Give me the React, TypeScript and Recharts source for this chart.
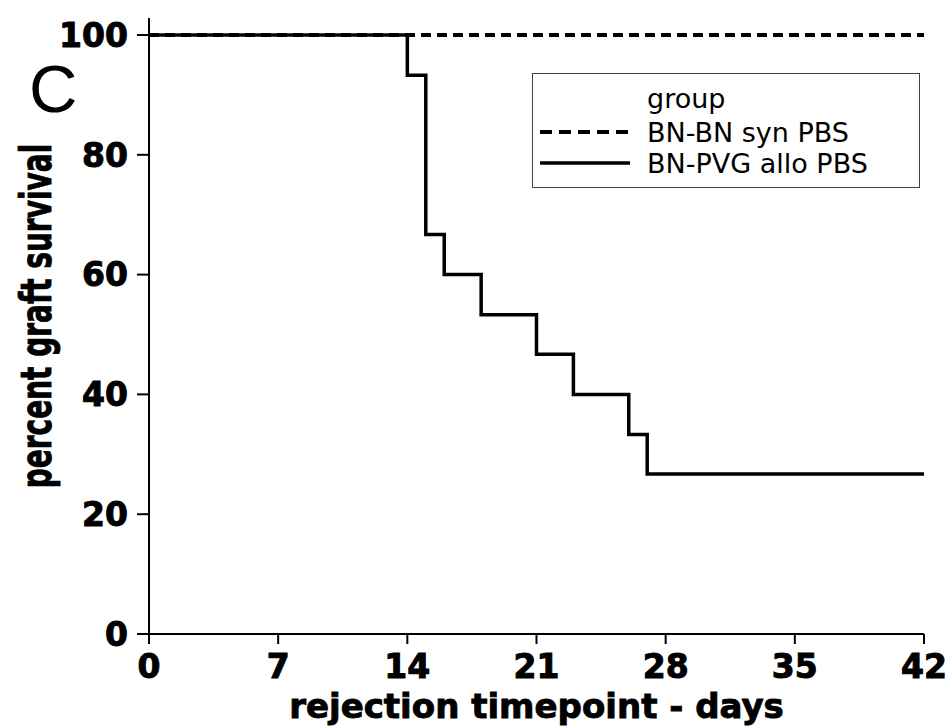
import { Legend, Line, LineChart, XAxis, YAxis } from "recharts";

const synDays = [0, 42];
const synSurvival = [100, 100];

const alloDays = [0, 14, 15, 16, 18, 21, 23, 26, 27, 42];
const alloSurvival = [100, 93.3, 66.7, 60, 53.3, 46.7, 40, 33.3, 26.7, 26.7];

const xTicks = [0, 7, 14, 21, 28, 35, 42];
const yTicks = [0, 20, 40, 60, 80, 100];

const seriesNames = ["BN-BN syn PBS", "BN-PVG allo PBS"];

const synData = synDays.map((day, i) => ({ day, survival: synSurvival[i] }));
const alloData = alloDays.map((day, i) => ({ day, survival: alloSurvival[i] }));

const FONT = "'DejaVu Sans', Verdana, sans-serif";

const tickStyle = {
  fill: "#000",
  stroke: "#000",
  strokeWidth: 1,
  fontFamily: FONT,
  fontSize: 33,
  fontWeight: "bold",
};

function SurvivalLegend() {
  return (
    <div
      style={{
        width: 388,
        height: 115,
        border: "1.5px solid #444",
        boxSizing: "border-box",
        background: "#fff",
      }}
    >
      <svg width={386} height={112} style={{ display: "block" }}>
        <text x={114} y={34} fontFamily={FONT} fontSize={27} fill="#000">
          group
        </text>
        <line x1={7} x2={97} y1={58} y2={58} stroke="#000" strokeWidth={4} strokeDasharray="12 7" />
        <text x={114} y={68} fontFamily={FONT} fontSize={27} fill="#000">
          {seriesNames[0]}
        </text>
        <line x1={7} x2={97} y1={89} y2={89} stroke="#000" strokeWidth={3.5} />
        <text x={114} y={99} fontFamily={FONT} fontSize={27} fill="#000">
          {seriesNames[1]}
        </text>
      </svg>
    </div>
  );
}

export default function App() {
  return (
    <div style={{ position: "absolute", left: 0, top: 0, width: 951, height: 727, background: "#fff" }}>
      <div
        style={{
          position: "absolute",
          left: 29,
          top: 55,
          fontFamily: "'Liberation Sans', Arial, sans-serif",
          fontSize: 67,
          lineHeight: 1,
          color: "#000",
          zIndex: 2,
        }}
      >
        C
      </div>
      <LineChart
        width={951}
        height={727}
        margin={{ top: 18, right: 27, bottom: 0, left: 0 }}
      >
        <XAxis
          dataKey="day"
          type="number"
          domain={[0, 42]}
          ticks={xTicks}
          allowDataOverflow
          height={93}
          stroke="#000"
          strokeWidth={2}
          tickSize={10}
          tickMargin={11}
          tick={tickStyle}
          label={{
            content: ({ viewBox }: any) => (
              <text
                x={viewBox.x + viewBox.width / 2}
                y={viewBox.y + 84}
                textAnchor="middle"
                fontFamily={FONT}
                fontSize={34}
                fontWeight="bold"
                fill="#000"
                stroke="#000"
                strokeWidth={0.9}
              >
                rejection timepoint - days
              </text>
            ),
          }}
        />
        <YAxis
          type="number"
          domain={[0, 102.84]}
          ticks={yTicks}
          allowDataOverflow
          width={149}
          stroke="#000"
          strokeWidth={2}
          tickSize={12}
          tickMargin={9}
          tick={tickStyle}
          label={{
            content: ({ viewBox }: any) => {
              const cx = 51;
              const cy = viewBox.y + viewBox.height / 2 - 10;
              return (
                <text
                  x={0}
                  y={0}
                  transform={`translate(${cx}, ${cy}) rotate(-90) scale(1, 1.5)`}
                  textAnchor="middle"
                  fontFamily={FONT}
                  fontSize={28}
                  fontWeight="bold"
                  fill="#000"
                  stroke="#000"
                  strokeWidth={0.6}
                >
                  percent graft survival
                </text>
              );
            },
          }}
        />
        <Legend
          layout="horizontal"
          align="center"
          verticalAlign="middle"
          wrapperStyle={{ position: "absolute", left: 532, top: 73, width: 388, height: 115 }}
          content={() => <SurvivalLegend />}
        />
        <Line
          data={alloData}
          dataKey="survival"
          name={seriesNames[1]}
          type="stepAfter"
          stroke="#000"
          strokeWidth={3.5}
          dot={false}
          activeDot={false}
          isAnimationActive={false}
        />
        <Line
          data={synData}
          dataKey="survival"
          name={seriesNames[0]}
          type="linear"
          stroke="#000"
          strokeWidth={4}
          strokeDasharray="10 6"
          dot={false}
          activeDot={false}
          isAnimationActive={false}
        />
      </LineChart>
    </div>
  );
}
